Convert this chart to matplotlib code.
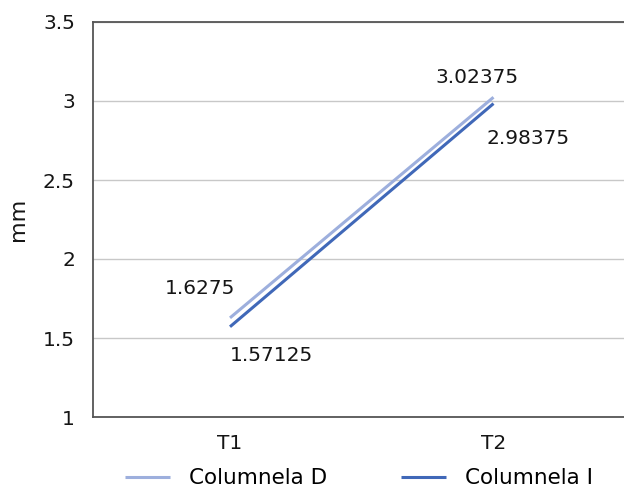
import matplotlib.pyplot as plt

plt.rcParams['font.family'] = ['DejaVu Sans']

categories = ["T1", "T2"]
col_d = [1.6275, 3.02375]
col_i = [1.57125, 2.98375]
labels_d = ["1.6275", "3.02375"]
labels_i = ["1.57125", "2.98375"]
yticks = [1, 1.5, 2, 2.5, 3, 3.5]
ytick_labels = ["1", "1.5", "2", "2.5", "3", "3.5"]

txt = '#151515'
fs = 14.5

fig = plt.figure(figsize=(6.24, 4.9), dpi=100)
ax = fig.add_axes([93 / 624, 73 / 490, 1 - 93 / 624 + 0.002, 395 / 490])

x = list(range(len(categories)))
ax.plot(x, col_d, color='#9dafdd', lw=2.2, label='Columnela D', solid_capstyle='butt')
ax.plot(x, col_i, color='#4068b8', lw=2.2, label='Columnela I', solid_capstyle='butt')

# data labels
ax.annotate(labels_d[0], (x[0], col_d[0]), xytext=(4, 21), textcoords='offset points',
            ha='right', va='center', fontsize=fs, color=txt)
ax.annotate(labels_i[0], (x[0], col_i[0]), xytext=(0, -21), textcoords='offset points',
            ha='left', va='center', fontsize=fs, color=txt)
ax.annotate(labels_d[1], (x[1], col_d[1]), xytext=(-12, 14), textcoords='offset points',
            ha='center', va='center', fontsize=fs, color=txt)
ax.annotate(labels_i[1], (x[1], col_i[1]), xytext=(-5, -25), textcoords='offset points',
            ha='left', va='center', fontsize=fs, color=txt)

ax.set_xlim(-0.52, 1.5)
ax.set_ylim(1, 3.5)
ax.set_yticks(yticks)
ax.set_yticklabels(ytick_labels, fontsize=fs, color=txt)
ax.set_xticks(x)
ax.set_xticklabels(categories, fontsize=fs, color=txt)
ax.tick_params(length=0, pad=13)
ax.tick_params(axis='x', pad=12)
ax.grid(axis='y', color='#c8c8c8', lw=1)
ax.set_axisbelow(True)
for s in ['left', 'bottom', 'top']:
    ax.spines[s].set_color('#555555')
    ax.spines[s].set_linewidth(1.3)
ax.spines['right'].set_visible(False)

ax.set_ylabel('mm', fontsize=16, color=txt, labelpad=11)

ax.legend(loc='center', bbox_to_anchor=(0.50, -0.155), ncol=2, frameon=False,
          fontsize=15.5, handlelength=2.1, columnspacing=3.4, handletextpad=0.9)

plt.savefig('out.png', dpi=100)
